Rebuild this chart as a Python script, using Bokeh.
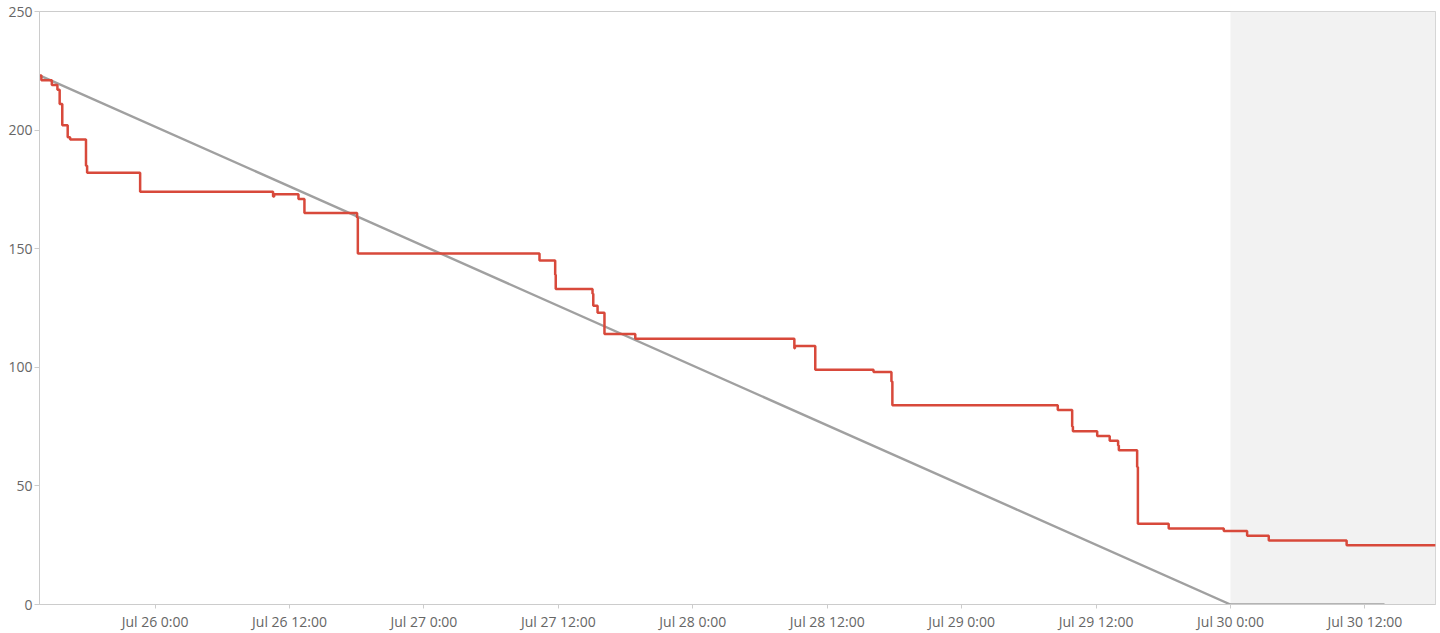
import pandas as pd
from bokeh.plotting import figure
from bokeh.models import FixedTicker, CustomJSTickFormatter, BoxAnnotation, Range1d, ColumnDataSource
from bokeh.embed import file_html
from bokeh.resources import INLINE

# Remaining work (step series)
remaining_times = [
    "2023-07-25 13:44", "2023-07-25 13:51", "2023-07-25 14:47", "2023-07-25 15:17",
    "2023-07-25 15:29", "2023-07-25 15:43", "2023-07-25 16:12", "2023-07-25 16:25",
    "2023-07-25 17:50", "2023-07-25 17:56", "2023-07-25 22:40", "2023-07-26 10:32",
    "2023-07-26 10:38", "2023-07-26 12:48", "2023-07-26 13:20", "2023-07-26 18:02",
    "2023-07-26 18:06", "2023-07-27 10:19", "2023-07-27 11:43", "2023-07-27 11:46",
    "2023-07-27 15:03", "2023-07-27 15:07", "2023-07-27 15:30", "2023-07-27 16:07",
    "2023-07-27 18:52", "2023-07-28 09:04", "2023-07-28 09:07", "2023-07-28 10:56",
    "2023-07-28 16:08", "2023-07-28 17:44", "2023-07-28 17:49", "2023-07-29 08:35",
    "2023-07-29 09:52", "2023-07-29 09:56", "2023-07-29 12:06", "2023-07-29 13:13",
    "2023-07-29 13:58", "2023-07-29 14:02", "2023-07-29 15:40", "2023-07-29 15:44",
    "2023-07-29 18:29", "2023-07-29 23:24", "2023-07-30 01:29", "2023-07-30 03:25",
    "2023-07-30 10:22", "2023-07-30 18:19",
]
remaining_values = [
    223, 221, 219, 217,
    211, 202, 197, 196,
    185, 182, 174, 172,
    173, 171, 165, 163,
    148, 145, 139, 133,
    131, 126, 123, 114,
    112, 108, 109, 99,
    98, 94, 84, 82,
    75, 73, 71, 69,
    67, 65, 58, 34,
    32, 31, 29, 27,
    25, 25,
]

# Ideal burndown
ideal_times = ["2023-07-25 13:44", "2023-07-30 00:00", "2023-07-30 13:45"]
ideal_values = [223, 0, 0]

# Axes
x_start, x_end = "2023-07-25 13:41", "2023-07-30 18:18"
shade_start = "2023-07-30 00:00"
x_tick_times = ["2023-07-26 00:00", "2023-07-26 12:00", "2023-07-27 00:00", "2023-07-27 12:00",
                "2023-07-28 00:00", "2023-07-28 12:00", "2023-07-29 00:00", "2023-07-29 12:00",
                "2023-07-30 00:00", "2023-07-30 12:00"]
y_ticks = [0, 50, 100, 150, 200, 250]

def ms(s):
    return pd.Timestamp(s).value / 1e6

rem_src = ColumnDataSource(dict(t=pd.to_datetime(remaining_times), v=remaining_values))
ideal_src = ColumnDataSource(dict(t=pd.to_datetime(ideal_times), v=ideal_values))

p = figure(width=1438, height=633, x_axis_type="datetime", output_backend="svg",
           toolbar_location=None, tools="",
           x_range=Range1d(ms(x_start), ms(x_end)), y_range=Range1d(0, 250),
           min_border_left=39, min_border_top=11, min_border_right=3, min_border_bottom=0)

p.outline_line_color = "#cccccc"
p.outline_line_width = 1
p.background_fill_color = "white"
p.border_fill_color = "white"
p.xgrid.visible = False
p.ygrid.visible = False

p.add_layout(BoxAnnotation(left=ms(shade_start), fill_color="#f2f2f2", fill_alpha=1.0,
                           line_alpha=0, level="underlay"))

p.line("t", "v", source=ideal_src, line_color="#a0a0a0", line_width=2.4)
p.step("t", "v", source=rem_src, mode="after", line_color="#d8493b", line_width=2.5)

p.xaxis.ticker = FixedTicker(ticks=[ms(t) for t in x_tick_times])
p.xaxis.formatter = CustomJSTickFormatter(code="""
const d = new Date(tick);
const m = ["Jan","Feb","Mar","Apr","May","Jun","Jul","Aug","Sep","Oct","Nov","Dec"][d.getUTCMonth()];
return m + " " + d.getUTCDate() + " " + d.getUTCHours() + ":" + String(d.getUTCMinutes()).padStart(2, "0");
""")
p.yaxis.ticker = FixedTicker(ticks=y_ticks)

for ax in (p.xaxis, p.yaxis):
    ax.axis_line_color = "#cccccc"
    ax.major_tick_line_color = "#cccccc"
    ax.minor_tick_line_color = None
    ax.major_label_text_color = "#666666"
    ax.major_label_text_font = "Open Sans"
    ax.major_label_text_font_size = "14px"
    ax.major_tick_in = 0

p.xaxis.major_tick_out = 4
p.xaxis.major_label_standoff = 3
p.yaxis.major_tick_out = 5
p.yaxis.major_label_standoff = 2

open("out.html", "w").write(file_html(p, INLINE))
